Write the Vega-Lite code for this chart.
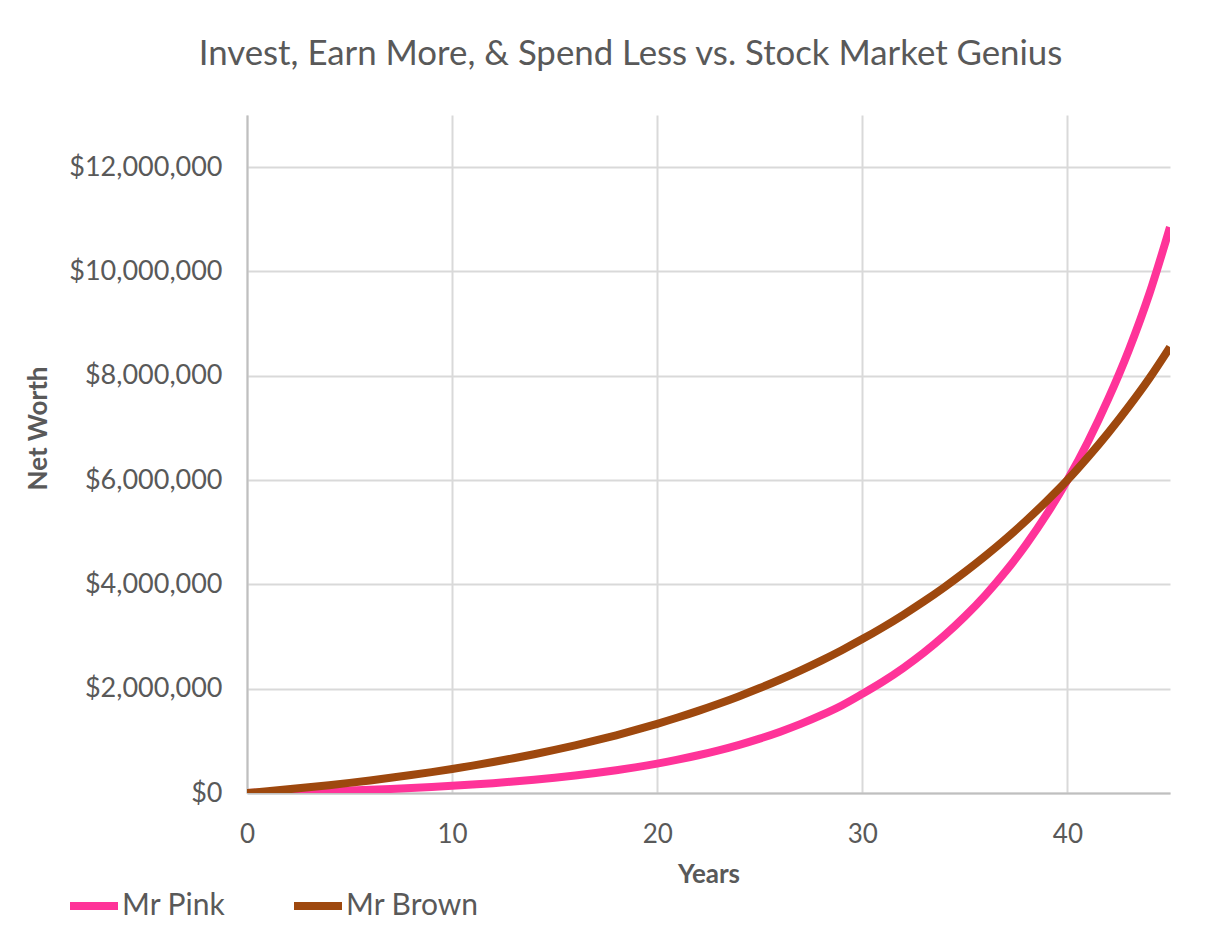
{
  "$schema": "https://vega.github.io/schema/vega-lite/v6.json",
  "width": 923,
  "height": 678,
  "autosize": {"type": "none"},
  "padding": {"left": 247, "top": 115, "right": 36, "bottom": 144},
  "background": "white",
  "title": {
    "text": "Invest, Earn More, & Spend Less vs. Stock Market Genius",
    "anchor": "middle",
    "frame": "group",
    "dx": -78,
    "offset": 42,
    "font": "Lato",
    "fontSize": 34.8,
    "fontWeight": "normal",
    "color": "#595959"
  },
  "config": {
    "view": {"stroke": null},
    "font": "Lato",
    "axis": {
      "labelFont": "Lato",
      "labelFontSize": 26,
      "labelColor": "#595959",
      "labelFlush": false,
      "titleFont": "Lato",
      "titleFontSize": 26,
      "titleFontWeight": "bold",
      "titleColor": "#595959",
      "gridColor": "#d9d9d9",
      "gridWidth": 2,
      "domainColor": "#bfbfbf",
      "domainWidth": 2,
      "ticks": false
    }
  },
  "data": {
    "values": [
      {"year": 0, "series": "Mr Pink", "worth": 0},
      {"year": 1, "series": "Mr Pink", "worth": 7822},
      {"year": 2, "series": "Mr Pink", "worth": 16582},
      {"year": 3, "series": "Mr Pink", "worth": 26394},
      {"year": 4, "series": "Mr Pink", "worth": 37383},
      {"year": 5, "series": "Mr Pink", "worth": 49691},
      {"year": 6, "series": "Mr Pink", "worth": 63475},
      {"year": 7, "series": "Mr Pink", "worth": 78914},
      {"year": 8, "series": "Mr Pink", "worth": 96206},
      {"year": 9, "series": "Mr Pink", "worth": 115572},
      {"year": 10, "series": "Mr Pink", "worth": 137262},
      {"year": 11, "series": "Mr Pink", "worth": 161556},
      {"year": 12, "series": "Mr Pink", "worth": 188764},
      {"year": 13, "series": "Mr Pink", "worth": 219238},
      {"year": 14, "series": "Mr Pink", "worth": 253368},
      {"year": 15, "series": "Mr Pink", "worth": 291594},
      {"year": 16, "series": "Mr Pink", "worth": 334406},
      {"year": 17, "series": "Mr Pink", "worth": 382357},
      {"year": 18, "series": "Mr Pink", "worth": 436061},
      {"year": 19, "series": "Mr Pink", "worth": 496210},
      {"year": 20, "series": "Mr Pink", "worth": 563578},
      {"year": 21, "series": "Mr Pink", "worth": 639029},
      {"year": 22, "series": "Mr Pink", "worth": 723534},
      {"year": 23, "series": "Mr Pink", "worth": 818181},
      {"year": 24, "series": "Mr Pink", "worth": 924184},
      {"year": 25, "series": "Mr Pink", "worth": 1042907},
      {"year": 26, "series": "Mr Pink", "worth": 1175877},
      {"year": 27, "series": "Mr Pink", "worth": 1324803},
      {"year": 28, "series": "Mr Pink", "worth": 1491603},
      {"year": 29, "series": "Mr Pink", "worth": 1678417},
      {"year": 30, "series": "Mr Pink", "worth": 1900000},
      {"year": 31, "series": "Mr Pink", "worth": 2135000},
      {"year": 32, "series": "Mr Pink", "worth": 2398000},
      {"year": 33, "series": "Mr Pink", "worth": 2690000},
      {"year": 34, "series": "Mr Pink", "worth": 3018000},
      {"year": 35, "series": "Mr Pink", "worth": 3385000},
      {"year": 36, "series": "Mr Pink", "worth": 3795000},
      {"year": 37, "series": "Mr Pink", "worth": 4255000},
      {"year": 38, "series": "Mr Pink", "worth": 4772000},
      {"year": 39, "series": "Mr Pink", "worth": 5351000},
      {"year": 40, "series": "Mr Pink", "worth": 6000000},
      {"year": 41, "series": "Mr Pink", "worth": 6735000},
      {"year": 42, "series": "Mr Pink", "worth": 7565000},
      {"year": 43, "series": "Mr Pink", "worth": 8500000},
      {"year": 44, "series": "Mr Pink", "worth": 9580000},
      {"year": 45, "series": "Mr Pink", "worth": 10850000},
      {"year": 0, "series": "Mr Brown", "worth": 0},
      {"year": 1, "series": "Mr Brown", "worth": 34162},
      {"year": 2, "series": "Mr Brown", "worth": 70545},
      {"year": 3, "series": "Mr Brown", "worth": 109293},
      {"year": 4, "series": "Mr Brown", "worth": 150559},
      {"year": 5, "series": "Mr Brown", "worth": 194508},
      {"year": 6, "series": "Mr Brown", "worth": 241313},
      {"year": 7, "series": "Mr Brown", "worth": 291161},
      {"year": 8, "series": "Mr Brown", "worth": 344249},
      {"year": 9, "series": "Mr Brown", "worth": 400788},
      {"year": 10, "series": "Mr Brown", "worth": 460999},
      {"year": 11, "series": "Mr Brown", "worth": 525128},
      {"year": 12, "series": "Mr Brown", "worth": 593424},
      {"year": 13, "series": "Mr Brown", "worth": 666158},
      {"year": 14, "series": "Mr Brown", "worth": 743621},
      {"year": 15, "series": "Mr Brown", "worth": 826119},
      {"year": 16, "series": "Mr Brown", "worth": 913979},
      {"year": 17, "series": "Mr Brown", "worth": 1007550},
      {"year": 18, "series": "Mr Brown", "worth": 1107202},
      {"year": 19, "series": "Mr Brown", "worth": 1213332},
      {"year": 20, "series": "Mr Brown", "worth": 1326362},
      {"year": 21, "series": "Mr Brown", "worth": 1446737},
      {"year": 22, "series": "Mr Brown", "worth": 1574936},
      {"year": 23, "series": "Mr Brown", "worth": 1711470},
      {"year": 24, "series": "Mr Brown", "worth": 1856880},
      {"year": 25, "series": "Mr Brown", "worth": 2011742},
      {"year": 26, "series": "Mr Brown", "worth": 2176665},
      {"year": 27, "series": "Mr Brown", "worth": 2352310},
      {"year": 28, "series": "Mr Brown", "worth": 2539372},
      {"year": 29, "series": "Mr Brown", "worth": 2738593},
      {"year": 30, "series": "Mr Brown", "worth": 2950765},
      {"year": 31, "series": "Mr Brown", "worth": 3176727},
      {"year": 32, "series": "Mr Brown", "worth": 3417378},
      {"year": 33, "series": "Mr Brown", "worth": 3673668},
      {"year": 34, "series": "Mr Brown", "worth": 3946617},
      {"year": 35, "series": "Mr Brown", "worth": 4237310},
      {"year": 36, "series": "Mr Brown", "worth": 4546893},
      {"year": 37, "series": "Mr Brown", "worth": 4876603},
      {"year": 38, "series": "Mr Brown", "worth": 5227743},
      {"year": 39, "series": "Mr Brown", "worth": 5601710},
      {"year": 40, "series": "Mr Brown", "worth": 6000000},
      {"year": 41, "series": "Mr Brown", "worth": 6440000},
      {"year": 42, "series": "Mr Brown", "worth": 6910000},
      {"year": 43, "series": "Mr Brown", "worth": 7415000},
      {"year": 44, "series": "Mr Brown", "worth": 7955000},
      {"year": 45, "series": "Mr Brown", "worth": 8550000}
    ]
  },
  "mark": {"type": "line", "strokeWidth": 8, "interpolate": "monotone", "clip": true},
  "encoding": {
    "x": {
      "field": "year",
      "type": "quantitative",
      "scale": {"domain": [0, 45], "nice": false, "zero": false},
      "axis": {
        "title": "Years",
        "values": [0, 10, 20, 30, 40],
        "labelPadding": 28,
        "titlePadding": 14,
        "grid": true
      }
    },
    "y": {
      "field": "worth",
      "type": "quantitative",
      "scale": {"domain": [0, 13000000], "nice": false},
      "axis": {
        "title": "Net Worth",
        "values": [0, 2000000, 4000000, 6000000, 8000000, 10000000, 12000000],
        "format": "$,.0f",
        "labelFontSize": 27,
        "labelPadding": 25,
        "titlePadding": 17,
        "titleY": 313,
        "grid": true
      }
    },
    "color": {
      "field": "series",
      "type": "nominal",
      "sort": ["Mr Pink", "Mr Brown"],
      "scale": {"domain": ["Mr Pink", "Mr Brown"], "range": ["#FF3399", "#9E480E"]},
      "legend": {
        "title": null,
        "orient": "none",
        "legendX": -181,
        "legendY": 763,
        "direction": "horizontal",
        "symbolType": "stroke",
        "symbolSize": 2304,
        "symbolStrokeWidth": 8,
        "labelFont": "Lato",
        "labelFontSize": 30,
        "labelColor": "#595959",
        "labelOffset": 0,
        "columnPadding": 52
      }
    }
  }
}
